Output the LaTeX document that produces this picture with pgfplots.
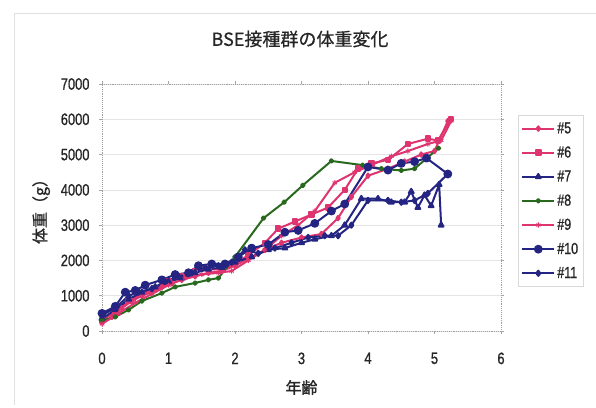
\documentclass[border=0pt]{standalone}
\usepackage{pgfplots}
\pgfplotsset{compat=1.18}
\usepackage{fontspec}
\setmainfont{Liberation Sans}
\newfontfamily\jpfont{Noto Sans CJK JP}
\newfontfamily\jptitle[FakeBold=0.5]{Noto Sans CJK JP}
\newfontfamily\jplabel[FakeBold=1.2]{Noto Sans CJK JP}
\newfontfamily\narrowfont[FakeStretch=0.78, FakeBold=0.9]{Liberation Sans}

\definecolor{pinkline}{RGB}{222,52,112}
\definecolor{navyline}{RGB}{36,36,130}
\definecolor{greenline}{RGB}{40,105,30}

\begin{document}
\begin{tikzpicture}
\path[use as bounding box] (0pt,0pt) rectangle (596pt,407pt);
\draw[black!12, line width=0.8pt] (14pt,2pt) -- (14pt,394pt) -- (596pt,394pt);
\node[font=\jptitle\fontsize{18}{18}\selectfont, text=black!85] at (300pt,368pt) {BSE接種群の体重変化};
\begin{axis}[
  at={(102pt,76pt)}, anchor=origin,
  scale only axis, width=399pt, height=247pt,
  xmin=0, xmax=6, ymin=0, ymax=7000,
  xtick={0,1,...,6}, ytick={0,1000,...,7000},
  scaled y ticks=false,
  /pgf/number format/assume math mode=true,
  /pgf/number format/set thousands separator={},
  ticklabel style={font=\narrowfont\fontsize{16.5}{16.5}\selectfont, text=black!85},
  xticklabel style={yshift=-15pt},
  yticklabel style={xshift=-6pt},
  tick align=outside, tick style={gray!70, line width=0.6pt},
  major tick length=3pt,
  axis line style={gray!75, line width=0.9pt, densely dotted},
  ymajorgrids, grid style={black!10, line width=0.6pt},
  xlabel={年齢}, ylabel={体重（g）},
  label style={font=\jplabel\fontsize{16}{16}\selectfont, text=black!85},
  xlabel style={yshift=-9pt},
  ylabel style={yshift=4pt},
  clip=false,
  legend style={at={(1.0426,0.8745)}, anchor=north west,
    draw=black!15, line width=0.6pt, inner xsep=3pt, inner ysep=5pt,
    font=\narrowfont\fontsize{16}{16}\selectfont, text=black!85,
    row sep=7.5pt, cells={anchor=west}},
  legend image code/.code={
    \draw[mark repeat=2, mark phase=2, #1] plot coordinates {(0pt,0pt) (16pt,0pt) (32pt,0pt)};},
  every axis plot/.append style={line width=2pt, line join=round},
]
% #5
\addplot[pinkline, mark=diamond*, mark size=2.2pt, mark options={solid}] coordinates {
(0,250) (0.15,400) (0.3,650) (0.45,850) (0.6,1000) (0.75,1100) (0.9,1250) (1.05,1350)
(1.2,1450) (1.4,1550) (1.6,1650) (1.8,1700) (2.0,1850) (2.2,2050) (2.45,2300) (2.7,2500)
(3.0,2650) (3.3,2750) (3.55,3200) (3.75,3800) (4.0,4400) (4.3,4600) (4.55,4800)
(4.8,5000) (5.0,5100) (5.2,5950)};
\addlegendentry{\#5}
% #6
\addplot[pinkline, mark=square*, mark size=2.2pt] coordinates {
(0,300) (0.2,550) (0.4,850) (0.6,1050) (0.8,1200) (1.0,1400) (1.2,1550) (1.4,1700)
(1.6,1750) (1.8,1750) (2.0,1900) (2.2,2150) (2.45,2500) (2.65,2900) (2.9,3100)
(3.15,3300) (3.4,3500) (3.65,4000) (3.85,4600) (4.05,4750) (4.3,4850) (4.6,5300)
(4.9,5450) (5.05,5400) (5.25,6000)};
\addlegendentry{\#6}
% #7
\addplot[navyline, mark=triangle*, mark size=2.8pt] coordinates {
(0,350) (0.2,600) (0.4,900) (0.6,1100) (0.8,1250) (1.0,1400) (1.2,1500) (1.4,1650)
(1.6,1750) (1.8,1800) (2.0,1950) (2.25,2100) (2.5,2300) (2.75,2350) (3.0,2500)
(3.2,2600) (3.45,2700) (3.65,3000) (3.9,3750) (4.15,3750) (4.35,3650) (4.55,3650)
(4.65,3950) (4.75,3500) (4.85,3850) (4.95,3550) (5.07,4150) (5.1,3000)};
\addlegendentry{\#7}
% #8
\addplot[greenline, mark=*, mark size=1.8pt] coordinates {
(0,300) (0.2,400) (0.4,600) (0.6,850) (0.9,1075) (1.1,1250) (1.4,1360) (1.6,1450)
(1.75,1500) (2.0,2100) (2.43,3200) (2.74,3650) (3.02,4130) (3.45,4820) (3.92,4700)
(4.2,4600) (4.5,4550) (4.7,4600) (5.06,5180)};
\addlegendentry{\#8}
% #9
\addplot[pinkline, mark=asterisk, mark size=2.6pt, mark options={line width=1pt}] coordinates {
(0,200) (0.25,500) (0.5,800) (0.75,1050) (1.0,1300) (1.25,1500) (1.5,1600) (1.75,1650)
(1.95,1700) (2.2,2000) (2.45,2300) (2.7,2700) (2.95,3000) (3.2,3400) (3.5,4200)
(3.8,4500) (4.05,4700) (4.35,4950) (4.6,5100) (4.9,5300) (5.1,5400) (5.25,5950)};
\addlegendentry{\#9}
% #10
\addplot[navyline, mark=*, mark size=3.4pt] coordinates {
(0,500) (0.2,700) (0.35,1100) (0.5,1150) (0.65,1300) (0.9,1450) (1.1,1600) (1.3,1650)
(1.45,1850) (1.65,1900) (1.85,1900) (2.05,2100) (2.25,2350) (2.5,2450) (2.75,2800)
(2.95,2850) (3.2,3050) (3.45,3400) (3.65,3600) (4.0,4650) (4.3,4560) (4.5,4750)
(4.7,4800) (4.88,4900) (5.2,4450)};
\addlegendentry{\#10}
% #11
\addplot[navyline, mark=diamond*, mark size=2.6pt] coordinates {
(0,450) (0.2,650) (0.4,1000) (0.55,1100) (0.75,1200) (0.95,1400) (1.15,1550)
(1.35,1650) (1.55,1800) (1.75,1850) (1.95,1950) (2.15,2300) (2.35,2200) (2.6,2350)
(2.85,2500) (3.1,2650) (3.35,2700) (3.55,2700) (3.75,3000) (4.0,3700) (4.3,3700)
(4.5,3650) (4.7,3700) (4.9,3900) (5.2,4450)};
\addlegendentry{\#11}
\end{axis}
\end{tikzpicture}
\end{document}
